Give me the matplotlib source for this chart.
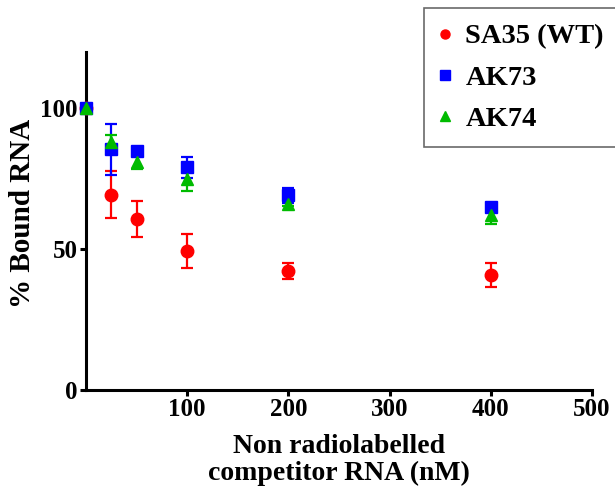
import numpy as np
import matplotlib
matplotlib.use("Agg")
import matplotlib.pyplot as plt

plt.rcParams['font.family'] = ['Liberation Serif', 'DejaVu Serif']
plt.rcParams['font.weight'] = 'bold'

# competitor concentration (nM)
conc = [0, 25, 50, 100, 200, 400]

sa35 = [100, 69.4, 60.6, 49.3, 42.3, 40.9]
sa35_err = [0, 8.3, 6.4, 6.1, 2.9, 4.3]

ak73 = [100, 85.5, 85.0, 79.0, 69.1, 65.0]
ak73_err = [0, 9.1, 1.0, 3.6, 2.7, 1.2]

ak74 = [100, 88.1, 81.0, 74.8, 66.2, 62.1]
ak74_err = [0, 2.5, 2.6, 4.3, 1.0, 3.2]

series = [
    ("SA35 (WT)", sa35, sa35_err, "o", "#ff0000"),
    ("AK73", ak73, ak73_err, "s", "#0000ff"),
    ("AK74", ak74, ak74_err, "^", "#00bb00"),
]

fig = plt.figure(figsize=(6.15, 4.92), dpi=100)
ax = fig.add_axes([0.1398, 0.2073, 0.8228, 0.687])

handles = []
for name, vals, err, mk, col in series:
    eb = ax.errorbar(conc, vals, yerr=err, fmt=mk, color=col, ecolor=col,
                     markersize=9, elinewidth=1.6, capsize=4.5, capthick=1.6,
                     label=name, clip_on=False, zorder=3)
    handles.append(ax.plot([], [], mk, color=col, markersize=6.5, label=name)[0])

ax.set_xlim(0, 500)
ax.set_ylim(0, 120)
ax.set_xticks([100, 200, 300, 400, 500])
ax.set_yticks([0, 50, 100])
ax.spines['top'].set_visible(False)
ax.spines['right'].set_visible(False)
ax.spines['left'].set_linewidth(2.2)
ax.spines['bottom'].set_linewidth(2.2)
ax.tick_params(direction='out', length=4, width=2.2, labelsize=18, pad=2)
for lab in ax.get_xticklabels() + ax.get_yticklabels():
    lab.set_fontweight('bold')

ax.set_xlabel("Non radiolabelled\ncompetitor RNA (nM)", fontsize=20,
              fontweight='bold', linespacing=1.1, labelpad=9)
ax.set_ylabel("% Bound RNA", fontsize=21, fontweight='bold')
ax.yaxis.set_label_coords(-0.098, 0.524)

leg = fig.legend(handles=handles, loc='upper left',
                 bbox_to_anchor=(424 / 615, 1 - 8 / 492, 200 / 615, 0.0),
                 mode='expand', prop={'weight': 'bold', 'size': 20.5},
                 frameon=True, fancybox=False, edgecolor='#444444',
                 handlelength=0.4, handletextpad=0.5, labelspacing=0.53,
                 borderpad=0.55, borderaxespad=0)
leg.get_frame().set_linewidth(1.2)

fig.savefig("out.png", dpi=100)
